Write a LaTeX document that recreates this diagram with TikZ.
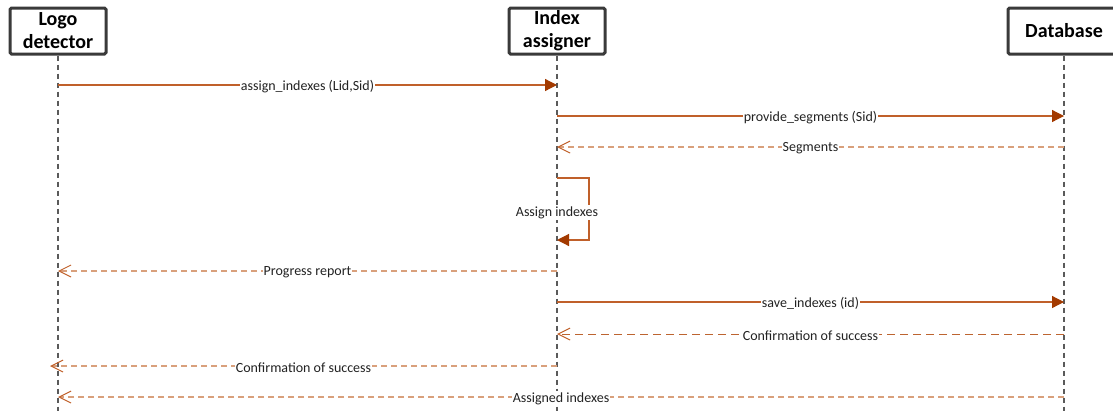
\documentclass[tikz,border=0pt]{standalone}
\usepackage{fontspec}
\setmainfont{Carlito}
\usetikzlibrary{arrows.meta}
\definecolor{msgline}{HTML}{C0602A}
\definecolor{msghead}{HTML}{A33A00}
\definecolor{replyline}{HTML}{D9A07C}
\definecolor{replydark}{HTML}{BD6430}
\definecolor{boxedge}{HTML}{3A3A3A}
\definecolor{lifeline}{HTML}{5A5A5A}
\definecolor{labeltext}{HTML}{222222}
\tikzset{
  head/.style={draw=boxedge, line width=3pt, rounded corners=1.5pt, fill=white,
    minimum height=46pt, minimum width=96pt, inner sep=0pt, align=center,
    font=\fontsize{20}{23}\selectfont\bfseries},
  life/.style={draw=lifeline, line width=1.1pt, dash pattern=on 5pt off 4pt},
  call/.style={draw=msgline, line width=1.2pt,
    -{Triangle[length=12pt,width=12pt,fill=msghead,color=msghead]}},
  reply/.style={draw=replyline, line width=1.8pt, dash pattern=on 6pt off 4pt,
    -{Straight Barb[length=12pt,width=12pt,line width=1pt,color=msgline]}},
  replydk/.style={draw=replydark, line width=1pt, dash pattern=on 8pt off 5pt,
    -{Straight Barb[length=12pt,width=12pt,line width=1pt,color=msgline]}},
  lbl/.style={fill=white, inner sep=1pt, text=labeltext, yshift=-1.5pt,
    font=\fontsize{14}{16}\selectfont},
}
\begin{document}
\begin{tikzpicture}[x=1pt,y=-1pt]
\useasboundingbox (0,0) rectangle (1113,410);
\clip (0,0) rectangle (1113,410);

% lifeline heads
\node[head] (ld) at (58,31) {Logo\\detector};
\node[head] (ia) at (557,31) {Index\\assigner};
\node[head, minimum width=112pt] (db) at (1064,31) {Database};

% lifeline ends
\coordinate (ldEnd) at (58,412);
\coordinate (iaEnd) at (557,412);
\coordinate (dbEnd) at (1064,412);
\draw[life] (ld.south) -- (ldEnd);
\draw[life] (ia.south) -- (iaEnd);
\draw[life] (db.south) -- (dbEnd);

% message anchors on the lifelines
\foreach \n/\y in {1/85,2/116,3/147,5/271,6/302,7/334,8/366,9/397}{
  \coordinate (ld\n) at (58,\y);
  \coordinate (ia\n) at (557,\y);
  \coordinate (db\n) at (1064,\y);
}
\coordinate (ld8tip) at (50,366);
\coordinate (loopA) at (557,178);
\coordinate (loopB) at (589,178);
\coordinate (loopC) at (589,240);
\coordinate (loopD) at (557,240);

% messages
\draw[call] (ld1) -- node[lbl] {assign\_indexes (Lid,Sid)} (ia1);
\draw[call] (ia2) -- node[lbl] {provide\_segments (Sid)} (db2);
\draw[reply] (db3) -- node[lbl] {Segments} (ia3);
\draw[call] (loopA) -- (loopB) -- (loopC) -- (loopD);
\node[lbl] (selflbl) at (557,211) {Assign indexes};
\draw[reply] (ia5) -- node[lbl] {Progress report} (ld5);
\draw[call] (ia6) -- node[lbl] {save\_indexes (id)} (db6);
\draw[replydk] (db7) -- node[lbl] {Confirmation of success} (ia7);
\draw[reply] (ia8) -- node[lbl] {Confirmation of success} (ld8tip);
\draw[reply] (db9) -- node[lbl] {Assigned indexes} (ld9);
\end{tikzpicture}
\end{document}
